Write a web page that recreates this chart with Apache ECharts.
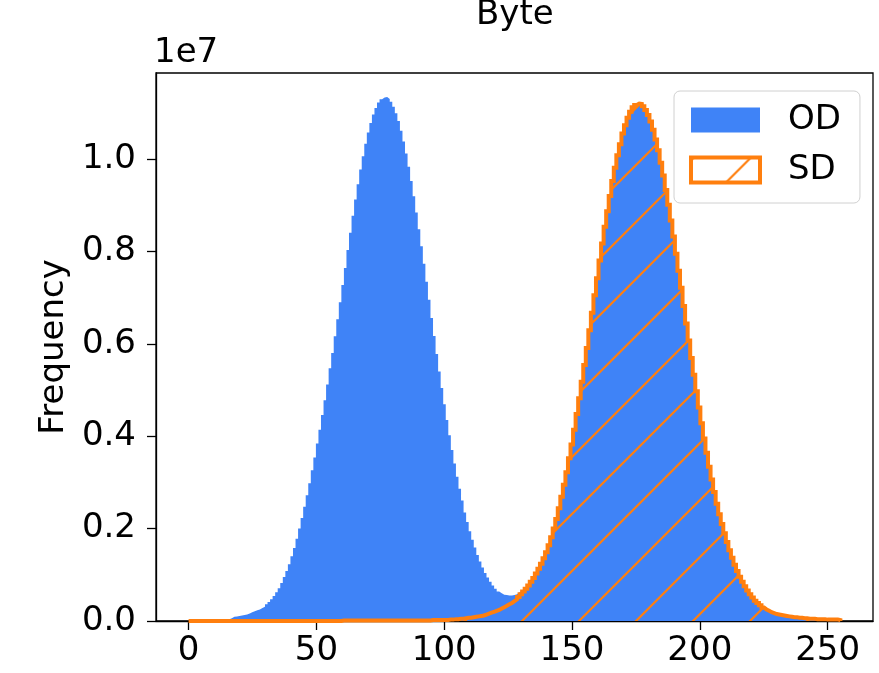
<!DOCTYPE html>
<html>
<head>
<meta charset="utf-8">
<script src="https://cdn.jsdelivr.net/npm/echarts@6/dist/echarts.min.js"></script>
<style>
html,body{margin:0;padding:0;background:#fff;}
#chart{width:879px;height:673px;}
</style>
</head>
<body>
<div id="chart"></div>
<script>
// ---- data (frequencies in units of 1e7), 256 bins over byte range 0..255 ----
const titleText = 'Byte';
const seriesNames = ['OD', 'SD'];
const byteRange = [0, 255];
const xTicks = [0, 50, 100, 150, 200, 250];
const yTicks = [0, 0.2, 0.4, 0.6, 0.8, 1.0];
const yScaleLabel = '1e7';

const odFreq = [
  0.001,0.001,0.001,0.001,0.001,0.001,0.001,0.001,0.001,0.001,
  0.002,0.002,0.002,0.002,0.003,0.004,0.006,0.009,0.010,0.011,
  0.012,0.013,0.014,0.016,0.019,0.021,0.023,0.025,0.028,0.031,
  0.036,0.041,0.047,0.054,0.062,0.071,0.082,0.095,0.108,0.123,
  0.140,0.158,0.178,0.200,0.223,0.247,0.272,0.298,0.326,0.354,
  0.384,0.414,0.446,0.478,0.512,0.547,0.580,0.616,0.653,0.690,
  0.727,0.764,0.803,0.840,0.877,0.912,0.945,0.977,1.006,1.033,
  1.057,1.078,1.096,1.110,1.122,1.129,1.133,1.134,1.130,1.124,
  1.113,1.099,1.082,1.061,1.038,1.012,0.983,0.952,0.919,0.884,
  0.848,0.811,0.773,0.734,0.695,0.656,0.617,0.578,0.540,0.504,
  0.469,0.435,0.402,0.370,0.341,0.312,0.286,0.261,0.235,0.214,
  0.194,0.176,0.159,0.143,0.129,0.116,0.104,0.094,0.085,0.077,
  0.070,0.064,0.060,0.057,0.056,0.055,0.055,0.056,0.058,0.062,
  0.066,0.068,0.072,0.078,0.086,0.093,0.103,0.113,0.124,0.136,
  0.149,0.164,0.181,0.200,0.221,0.244,0.269,0.295,0.322,0.352,
  0.382,0.414,0.448,0.482,0.518,0.554,0.591,0.629,0.667,0.705,
  0.742,0.780,0.817,0.853,0.887,0.920,0.952,0.981,1.008,1.032,
  1.055,1.073,1.089,1.102,1.112,1.117,1.120,1.119,1.114,1.106,
  1.095,1.081,1.063,1.042,1.019,0.992,0.964,0.933,0.901,0.867,
  0.832,0.795,0.758,0.721,0.682,0.644,0.607,0.569,0.533,0.497,
  0.462,0.428,0.395,0.364,0.334,0.306,0.279,0.254,0.231,0.210,
  0.190,0.171,0.153,0.137,0.122,0.108,0.096,0.085,0.075,0.066,
  0.058,0.051,0.044,0.039,0.034,0.029,0.025,0.022,0.019,0.017,
  0.015,0.014,0.013,0.012,0.011,0.010,0.009,0.008,0.008,0.007,
  0.007,0.006,0.006,0.005,0.005,0.005,0.004,0.004,0.004,0.004,
  0.003,0.003,0.003,0.003,0.003,0.002
];
const sdFreq = [
  0,0,0,0,0,0,0,0,0,0,
  0,0,0,0,0,0,0,0,0,0,
  0,0,0,0,0,0,0,0,0,0,
  0,0,0,0,0,0,0,0,0,0,
  0,0,0,0,0,0,0,0,0,0,
  0,0,0,0,0,0,0,0,0,0,
  0.001,0.001,0.001,0.001,0.001,0.001,0.001,0.001,0.001,0.001,
  0.001,0.001,0.001,0.001,0.001,0.001,0.001,0.001,0.001,0.001,
  0.001,0.001,0.001,0.001,0.001,0.001,0.001,0.001,0.001,0.001,
  0.001,0.001,0.001,0.001,0.001,0.002,0.002,0.002,0.002,0.002,
  0.002,0.002,0.003,0.003,0.004,0.004,0.005,0.005,0.006,0.007,
  0.007,0.008,0.009,0.010,0.011,0.012,0.014,0.016,0.018,0.020,
  0.022,0.024,0.027,0.030,0.033,0.036,0.039,0.043,0.047,0.052,
  0.058,0.064,0.070,0.077,0.085,0.093,0.103,0.113,0.124,0.136,
  0.149,0.164,0.181,0.200,0.221,0.244,0.269,0.295,0.322,0.352,
  0.382,0.414,0.448,0.482,0.518,0.554,0.591,0.629,0.667,0.705,
  0.742,0.780,0.817,0.853,0.887,0.920,0.952,0.981,1.008,1.032,
  1.055,1.073,1.089,1.102,1.112,1.117,1.120,1.119,1.114,1.106,
  1.095,1.081,1.063,1.042,1.019,0.992,0.964,0.933,0.901,0.867,
  0.832,0.795,0.758,0.721,0.682,0.644,0.607,0.569,0.533,0.497,
  0.462,0.428,0.395,0.364,0.334,0.306,0.279,0.254,0.231,0.210,
  0.190,0.171,0.153,0.137,0.122,0.108,0.096,0.085,0.075,0.066,
  0.058,0.051,0.044,0.039,0.034,0.029,0.025,0.022,0.019,0.017,
  0.015,0.014,0.013,0.012,0.011,0.010,0.009,0.008,0.008,0.007,
  0.007,0.006,0.006,0.005,0.005,0.005,0.004,0.004,0.004,0.004,
  0.003,0.003,0.003,0.003,0.003,0.002
];
if (odFreq.length !== 256 || sdFreq.length !== 256) {
  throw new Error('bin count mismatch: ' + odFreq.length + ' / ' + sdFreq.length);
}

// ---- build step outlines from bins ----
function stepData(vals) {
  const n = vals.length;
  const w = (byteRange[1] - byteRange[0]) / n;
  const pts = [[byteRange[0], 0]];
  for (let i = 0; i < n; i++) pts.push([byteRange[0] + i * w, vals[i]]);
  pts.push([byteRange[1], vals[n - 1]]);
  pts.push([byteRange[1], 0]);
  return pts;
}

const BLUE = '#3f83f7';
const ORANGE = '#ff7f0e';
const FONT = 'DejaVu Sans';
const FS = 34;

function makeHatch() {
  const S = 57;
  const c = document.createElement('canvas');
  c.width = S; c.height = S;
  const ctx = c.getContext('2d');
  ctx.strokeStyle = ORANGE;
  ctx.lineWidth = 2.2;
  ctx.beginPath();
  ctx.moveTo(-2, S + 2); ctx.lineTo(S + 2, -2);
  ctx.moveTo(-2, 2); ctx.lineTo(2, -2);
  ctx.moveTo(S - 2, S + 2); ctx.lineTo(S + 2, S - 2);
  ctx.stroke();
  return c;
}
const hatchCanvas = makeHatch();
const hatch = { image: hatchCanvas, repeat: 'repeat', x: 3, y: 0 };

const chart = echarts.init(document.getElementById('chart'), null, { renderer: 'canvas' });
chart.setOption({
  animation: false,
  backgroundColor: '#fff',
  textStyle: { fontFamily: FONT },
  title: {
    text: titleText,
    left: 476,
    top: -2,
    padding: 0,
    textStyle: { fontFamily: FONT, fontSize: FS, fontWeight: 'normal', color: '#000' }
  },
  graphic: [{
    type: 'text',
    x: 154, y: 53,
    style: { text: yScaleLabel, font: FS + 'px "' + FONT + '"', fill: '#000', verticalAlign: 'middle', align: 'left' }
  }],
  grid: {
    left: 156, top: 73, right: 6, bottom: 52,
    show: true, borderColor: '#000', borderWidth: 1.3, backgroundColor: 'transparent'
  },
  legend: {
    orient: 'vertical',
    left: 674, top: 91,
    padding: [12, 19, 16, 15],
    itemWidth: 69, itemHeight: 25, itemGap: 16,
    backgroundColor: 'rgba(255,255,255,0.8)',
    borderColor: '#d0d0d0', borderWidth: 1, borderRadius: 6,
    textStyle: { fontFamily: FONT, fontSize: FS, color: '#000', lineHeight: 34, padding: [0, 0, 0, 23] },
    data: [
      { name: seriesNames[0], icon: 'rect', itemStyle: { color: BLUE, borderWidth: 0 } },
      { name: seriesNames[1], icon: 'rect', itemStyle: { color: hatch, borderColor: ORANGE, borderWidth: 4 } }
    ]
  },
  xAxis: {
    type: 'value',
    min: -12.75, max: 267.75,
    splitLine: { show: false },
    axisLine: { show: true, onZero: false, lineStyle: { color: '#000', width: 1.3 } },
    axisTick: { show: true, customValues: xTicks, length: 9, lineStyle: { color: '#000', width: 1.3 } },
    axisLabel: { customValues: xTicks, fontFamily: FONT, fontSize: FS, color: '#000', margin: 13 }
  },
  yAxis: {
    type: 'value',
    min: 0, max: 1.186,
    name: 'Frequency',
    nameLocation: 'middle',
    nameGap: 81,
    nameTextStyle: { fontFamily: FONT, fontSize: FS, color: '#000' },
    splitLine: { show: false },
    axisLine: { show: true, onZero: false, lineStyle: { color: '#000', width: 1.3 } },
    axisTick: { show: true, customValues: yTicks, length: 9, lineStyle: { color: '#000', width: 1.3 } },
    axisLabel: { customValues: yTicks, fontFamily: FONT, fontSize: FS, color: '#000', margin: 20,
      formatter: v => v.toFixed(1) }
  },
  series: [
    {
      name: seriesNames[0], type: 'line', step: 'end',
      data: stepData(odFreq),
      showSymbol: false, symbol: 'none',
      lineStyle: { width: 0, color: BLUE },
      itemStyle: { color: BLUE },
      areaStyle: { color: BLUE, opacity: 1 },
      z: 2
    },
    {
      name: seriesNames[1], type: 'line', step: 'end',
      data: stepData(sdFreq),
      showSymbol: false, symbol: 'none',
      lineStyle: { width: 4, color: ORANGE, join: 'miter' },
      itemStyle: { color: ORANGE },
      areaStyle: { color: hatch, opacity: 1 },
      z: 3
    }
  ]
});
</script>
</body>
</html>
